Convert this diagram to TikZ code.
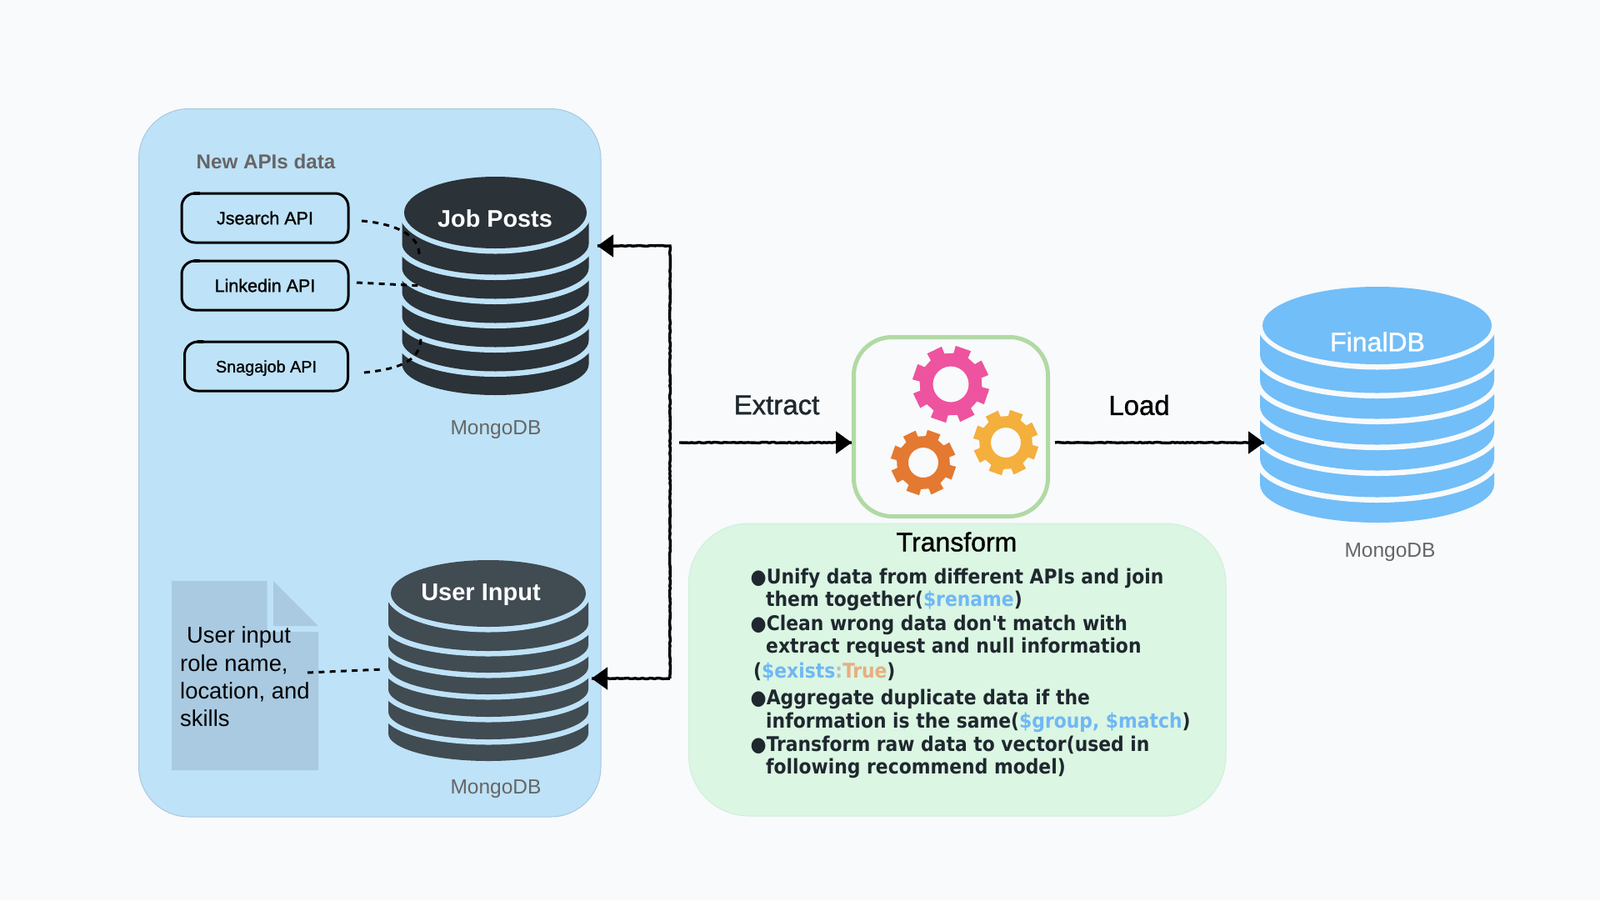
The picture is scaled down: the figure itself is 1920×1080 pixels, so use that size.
\documentclass[tikz,border=0pt]{standalone}
\usepackage{fontspec}
\setmainfont{Liberation Sans}
\newfontfamily\lucidish{DejaVu Sans Condensed}
\newfontfamily\medsans[FakeBold=1.2]{Liberation Sans}
\usetikzlibrary{arrows.meta,decorations.pathmorphing}
\definecolor{pagebg}{HTML}{F8FAFC}
\definecolor{panelblue}{HTML}{BEE2F7}
\definecolor{panelline}{HTML}{A9C8DF}
\definecolor{panelgreen}{HTML}{DBF6E3}
\definecolor{panelgreenline}{HTML}{D0EFD9}
\definecolor{boxgreen}{HTML}{B2D9A4}
\definecolor{docblue}{HTML}{A9CAE1}
\definecolor{dbdark}{HTML}{2B3238}
\definecolor{dbslate}{HTML}{414B52}
\definecolor{dbsky}{HTML}{72BEF8}
\definecolor{gearpink}{HTML}{EE539F}
\definecolor{gearyellow}{HTML}{F4AF3D}
\definecolor{gearorange}{HTML}{E47931}
\definecolor{greytext}{HTML}{666666}
\definecolor{bodytext}{HTML}{1F282E}
\definecolor{codeblue}{HTML}{6FB8F5}
\definecolor{codeorange}{HTML}{E8AE82}
\definecolor{codegrey}{HTML}{B9C0C4}
\newcommand{\fsz}[1]{\fontsize{#1pt}{#1pt}\selectfont}
% \dbstack{cx}{body half width}{top cy}{top rx}{top ry}{gap colour}{fill}{bottom ry}{layer bottoms, lowest first}
\newcommand{\dbstack}[9]{%
  \foreach \bb in {#9}{%
    \pgfmathsetmacro{\xl}{#1-#2}\pgfmathsetmacro{\xr}{#1+#2}
    \pgfmathsetmacro{\ys}{\bb-#8}\pgfmathsetmacro{\yt}{\ys-45}
    \pgfmathsetmacro{\yc}{\ys+0.5523*#8}
    \pgfmathsetmacro{\xa}{#1-0.5523*#2}\pgfmathsetmacro{\xb}{#1+0.5523*#2}
    \path[draw=#6,line width=13pt,fill=#7,line join=round]
      (\xl,\yt) -- (\xl,\ys) .. controls (\xl,\yc) and (\xa,\bb) .. (#1,\bb)
      .. controls (\xb,\bb) and (\xr,\yc) .. (\xr,\ys) -- (\xr,\yt) -- cycle;
    \fill[#7] (\xl,\yt) -- (\xl,\ys) .. controls (\xl,\yc) and (\xa,\bb) .. (#1,\bb)
      .. controls (\xb,\bb) and (\xr,\yc) .. (\xr,\ys) -- (\xr,\yt) -- cycle;
  }%
  \fill[#6] (#1,#3) ellipse [x radius=#4+6,y radius=#5+6.5];
  \fill[#7] (#1,#3) ellipse [x radius=#4,y radius=#5];
}
% \gearshape{cx}{cy}{tip r}{root r}{hole r}{colour}
\newcommand{\gearshape}[6]{%
  \begin{scope}[shift={(#1,#2)}]
    \fill[#6,even odd rule] (-70.8-14:#4)
      \foreach \k in {0,...,7}{
        -- ({-70.8+45*\k-14}:#4) -- ({-70.8+45*\k-12}:#3)
        -- ({-70.8+45*\k+12}:#3) -- ({-70.8+45*\k+14}:#4)
      } -- cycle
      (0,0) circle [radius=#5];
  \end{scope}
}
\tikzset{
  apibox/.style={draw=black,line width=3pt,rounded corners=16pt,minimum width=200pt,minimum height=59pt,inner sep=0pt,font=\medsans\fsz{21.5}},
  dotted link/.style={draw=black,line width=3pt,dash pattern=on 7pt off 6.3pt},
  flow/.style={draw=black,line width=1.5pt,-{Triangle[length=19pt,width=27pt]},
    postaction={draw,-,line width=3.4pt,decorate,decoration={random steps,segment length=3pt,amplitude=.5pt}}},
  dblabel/.style={text=greytext,font=\fsz{24.5},inner sep=0pt},
  linetext/.style={anchor=base west,inner sep=0pt,text=bodytext,font=\lucidish\bfseries\fsz{24.3}},
  steptitle/.style={inner sep=0pt,font=\medsans\fsz{33}},
  strokeblob/.style={draw=black,line width=4.5pt,line cap=round},
}
\begin{document}
\begin{tikzpicture}[x=1pt,y=-1pt]
\useasboundingbox (0,0) rectangle (1920,1080);
\fill[pagebg] (0,0) rectangle (1920,1080);
% panels
\path[draw=panelline,line width=1pt,fill=panelblue,rounded corners=60pt] (166.5,130.5) rectangle (721,980);
\path[draw=panelgreenline,line width=1pt,fill=panelgreen,rounded corners=72pt] (826.5,628) rectangle (1471,979);
\node[inner sep=0pt,text=greytext,font=\bfseries\fsz{24.2}] (newapis) at (319,194) {New APIs data};
% document
\fill[docblue] (206,697) -- (320.5,697) -- (320.5,758) -- (382,758) -- (382,924) -- (206,924) -- cycle;
\fill[docblue] (328,697) -- (382,751) -- (328,751) -- cycle;
\node[inner sep=0pt,anchor=west,align=left,font=\fontsize{27.4pt}{33.3pt}\selectfont] (usertext) at (216,812)
  {\hspace*{8pt}User input\\role name,\\location, and\\skills};
% databases
\dbstack{594.5}{112}{255}{109.5}{43}{panelblue}{dbdark}{37}{474,445.5,416.5,387.5,358.5,329.5}
\node[inner sep=0pt,text=white,font=\bfseries\fsz{28.8}] (jobposts) at (594,262) {Job Posts};
\dbstack{586}{120}{712}{117}{40}{panelblue}{dbslate}{33}{913,887,860,833,807,781}
\node[inner sep=0pt,text=white,font=\bfseries\fsz{29}] (userinput) at (577,713.5) {User Input};
\dbstack{1652.5}{140.5}{390.5}{137.5}{46.5}{pagebg}{dbsky}{46}{627,596.5,564.5,533.5,502.5,471.5}
\node[inner sep=0pt,text=white,font=\medsans\fsz{32}] (finaldb) at (1653,410) {FinalDB};
\node[dblabel] (mongoa) at (595,515.5) {MongoDB};
\node[dblabel] (mongob) at (595,946.5) {MongoDB};
\node[dblabel] (mongoc) at (1668,662.5) {MongoDB};
% API boxes
\node[apibox] (jsearch) at (318,261.5) {Jsearch API};
\node[apibox] (linkedin) at (318,342.5) {Linkedin API};
\node[apibox,minimum width=196pt,font=\medsans\fsz{19.8},text height=14.5pt,text depth=0pt] (snagajob) at (319.5,439.5) {Snagajob API};
\draw[strokeblob] ([xshift=17pt,yshift=-1.5pt]jsearch.north west) -- ([xshift=22pt,yshift=-1.5pt]jsearch.north west);
\draw[strokeblob] ([xshift=17pt,yshift=-1.5pt]linkedin.north west) -- ([xshift=22pt,yshift=-1.5pt]linkedin.north west);
\draw[strokeblob] ([xshift=18pt,yshift=-1.5pt]snagajob.north west) -- ([xshift=23pt,yshift=-1.5pt]snagajob.north west);
% dotted links
\coordinate (ja) at (434,265); \coordinate (jb) at (503,308);
\coordinate (la) at (428,339); \coordinate (lb) at (507,343);
\coordinate (sa) at (437,447); \coordinate (sb) at (505,405);
\coordinate (ua) at (369,807); \coordinate (ub) at (460,803);
\draw[dotted link] (ja) .. controls (470,268) and (505,280) .. (jb);
\draw[dotted link] (la) -- (lb);
\draw[dotted link] (sa) .. controls (475,443) and (505,435) .. (sb);
\draw[dotted link] (ua) -- (ub);
% transform box and gears
\node[draw=boxgreen,line width=5pt,rounded corners=46pt,minimum width=233pt,minimum height=215pt,inner sep=0pt] (etl) at (1141,512) {};
\gearshape{1141}{461}{46.5}{37.5}{21.5}{gearpink}
\gearshape{1207}{531}{39.5}{32}{18}{gearyellow}
\gearshape{1108}{555}{39.5}{32}{18}{gearorange}
% arrows
\coordinate (exin) at (815,531);
\coordinate (finalin) at (1517,531);
\coordinate (loadstart) at (1266,531);
\coordinate (topend) at (717,295);
\coordinate (botend) at (710,814);
\coordinate (bustop) at (804,295);
\coordinate (busbot) at (804,814);
\draw[flow] (exin) -- (exin -| etl.west);
\draw[flow] (loadstart) -- (finalin);
\draw[flow] (busbot) -- (bustop) -- (topend);
\draw[flow] (busbot) -- (botend);
% labels
\node[steptitle,text=bodytext] (extract) at (932,486) {Extract};
\node[steptitle] (load) at (1367,486) {Load};
\node[steptitle,font=\medsans\fsz{32}] (transform) at (1148,650) {Transform};
% transform text
\node[linetext] (ta) at (900.5,700) {●Unify data from different APIs and join};
\node[linetext] (tb) at (919,727) {them together(\textcolor{codeblue}{\$rename})};
\node[linetext] (tc) at (900.5,756) {●Clean wrong data don't match with};
\node[linetext] (td) at (919,783) {extract request and null information};
\node[linetext] (te) at (904,813) {(\textcolor{codeblue}{\$exists}\textcolor{codegrey}{:}\textcolor{codeorange}{True})};
\node[linetext] (tf) at (900.5,845) {●Aggregate duplicate data if the};
\node[linetext] (tg) at (919,873) {information is the same(\textcolor{codeblue}{\$group, \$match})};
\node[linetext] (th) at (900.5,901) {●Transform raw data to vector(used in};
\node[linetext] (ti) at (919,928) {following recommend model)};
\end{tikzpicture}
\end{document}
